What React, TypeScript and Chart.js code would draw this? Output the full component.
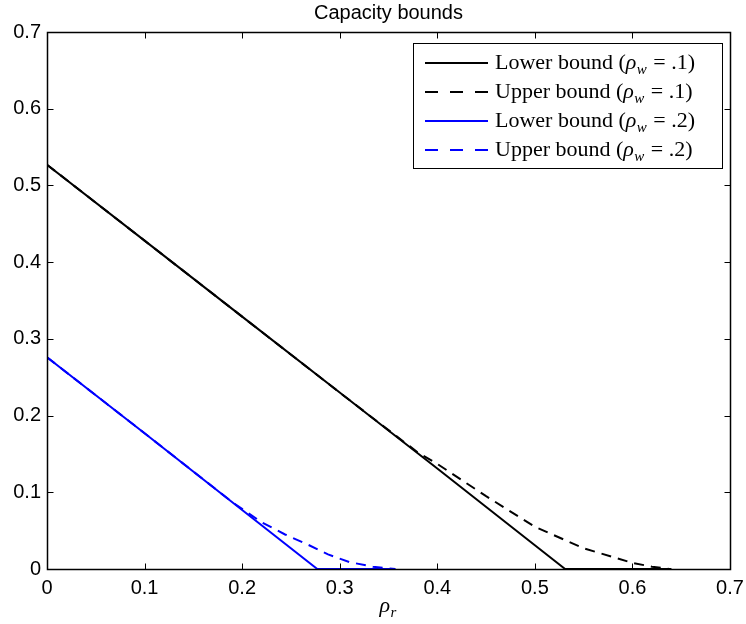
import React, { useEffect, useRef } from 'react';
import { Chart, registerables } from 'chart.js';

Chart.register(...registerables);

// ---- axis ticks ----
const xTicks = [0, 0.1, 0.2, 0.3, 0.4, 0.5, 0.6, 0.7];
const xTickLabels = ['0', '0.1', '0.2', '0.3', '0.4', '0.5', '0.6', '0.7'];
const yTicks = [0, 0.1, 0.2, 0.3, 0.4, 0.5, 0.6, 0.7];
const yTickLabels = ['0', '0.1', '0.2', '0.3', '0.4', '0.5', '0.6', '0.7'];

const chartTitle = 'Capacity bounds';

// ---- series (rho_w = .1) ----
const lower1X = [0, 0.1, 0.2, 0.3, 0.4, 0.5, 0.531, 0.64];
const lower1Y = [0.527, 0.428, 0.329, 0.23, 0.131, 0.031, 0, 0];
const upper1X = [0, 0.1, 0.2, 0.3, 0.35, 0.38, 0.4, 0.45, 0.5, 0.55, 0.6, 0.62, 0.638];
const upper1Y = [0.527, 0.428, 0.329, 0.23, 0.181, 0.152, 0.137, 0.095, 0.055, 0.027, 0.008, 0.003, 0];

// ---- series (rho_w = .2) ----
const lower2X = [0, 0.1, 0.2, 0.277, 0.357];
const lower2Y = [0.276, 0.177, 0.077, 0, 0];
const upper2X = [0, 0.1, 0.19, 0.22, 0.244, 0.267, 0.288, 0.31, 0.334, 0.357];
const upper2Y = [0.276, 0.177, 0.087, 0.061, 0.045, 0.032, 0.019, 0.009, 0.003, 0];

const seriesNames = ['Lower bound', 'Upper bound', 'Lower bound', 'Upper bound'];
const seriesRho = ['.1', '.1', '.2', '.2'];
const seriesColors = ['#000000', '#000000', '#0000ff', '#0000ff'];
const seriesDashed = [false, true, false, true];
const seriesX = [lower1X, upper1X, lower2X, upper2X];
const seriesY = [lower1Y, upper1Y, lower2Y, upper2Y];

const SANS = '"Liberation Sans", Arial, sans-serif';
const SERIF = '"Liberation Serif", "Times New Roman", serif';

function drawRhoSub(ctx: CanvasRenderingContext2D, x: number, y: number, sub: string, size: number) {
  ctx.font = `italic ${size}px ${SERIF}`;
  ctx.fillText('ρ', x, y);
  const w = ctx.measureText('ρ').width;
  ctx.font = `italic ${Math.round(size * 0.7)}px ${SERIF}`;
  ctx.fillText(sub, x + w + 0.5, y + size * 0.22);
  return w + 0.5 + ctx.measureText(sub).width;
}

const decorPlugin = {
  id: 'decor',
  afterDraw(chart: any) {
    const { ctx, chartArea: a, scales } = chart;
    ctx.save();
    const L = Math.round(a.left) + 0.5;
    const R = Math.round(a.right) + 0.5;
    const T = Math.round(a.top) + 0.5;
    const B = Math.round(a.bottom) + 0.5;
    ctx.strokeStyle = '#000';
    ctx.lineWidth = 1.5;
    ctx.strokeRect(L, T, R - L, B - T);
    ctx.lineWidth = 1;
    const tl = 6;
    ctx.beginPath();
    xTicks.forEach((v) => {
      const px = Math.round(scales.x.getPixelForValue(v)) + 0.5;
      ctx.moveTo(px, B);
      ctx.lineTo(px, B - tl);
      ctx.moveTo(px, T);
      ctx.lineTo(px, T + tl);
    });
    yTicks.forEach((v) => {
      const py = Math.round(scales.y.getPixelForValue(v)) + 0.5;
      ctx.moveTo(L, py);
      ctx.lineTo(L + tl, py);
      ctx.moveTo(R, py);
      ctx.lineTo(R - tl, py);
    });
    ctx.stroke();

    // title
    ctx.fillStyle = '#000';
    ctx.font = `20px ${SANS}`;
    ctx.textAlign = 'center';
    ctx.textBaseline = 'alphabetic';
    ctx.fillText(chartTitle, (a.left + a.right) / 2, 19);

    // x axis label rho_r
    ctx.textAlign = 'left';
    const cx = (a.left + a.right) / 2;
    drawRhoSub(ctx, cx - 9, 612, 'r', 22);

    // legend
    const lx = 413.5, ly = 43.5, lw = 309, lh = 125;
    ctx.fillStyle = '#fff';
    ctx.fillRect(lx, ly, lw, lh);
    ctx.strokeStyle = '#000';
    ctx.lineWidth = 1;
    ctx.strokeRect(lx, ly, lw, lh);
    chart.data.datasets.forEach((ds: any, i: number) => {
      const ry = 63 + i * 29;
      ctx.save();
      ctx.strokeStyle = ds.borderColor;
      ctx.lineWidth = 2;
      ctx.setLineDash(seriesDashed[i] ? [13, 12] : []);
      ctx.beginPath();
      ctx.moveTo(425, ry);
      ctx.lineTo(488, ry);
      ctx.stroke();
      ctx.restore();
      ctx.fillStyle = '#000';
      ctx.textAlign = 'left';
      ctx.textBaseline = 'alphabetic';
      const base = ry + 6;
      const size = 22;
      ctx.font = `${size}px ${SERIF}`;
      let x = 495;
      const part1 = seriesNames[i] + ' (';
      ctx.fillText(part1, x, base);
      x += ctx.measureText(part1).width;
      x += drawRhoSub(ctx, x, base, 'w', size);
      ctx.font = `${size}px ${SERIF}`;
      const part2 = ' = ' + seriesRho[i] + ')';
      ctx.fillText(part2, x + 1, base);
    });
    ctx.restore();
  },
};

export default function App() {
  const canvasRef = useRef<HTMLCanvasElement | null>(null);

  useEffect(() => {
    document.body.style.margin = '0';
    const canvas = canvasRef.current;
    if (!canvas) return;
    const datasets = seriesX.map((xs, i) => ({
      label: `${seriesNames[i]} (ρw = ${seriesRho[i]})`,
      data: xs.map((x, j) => ({ x, y: seriesY[i][j] })),
      borderColor: seriesColors[i],
      backgroundColor: seriesColors[i],
      borderWidth: 2,
      borderDash: seriesDashed[i] ? [10, 7] : [],
      pointRadius: 0,
      tension: 0,
      fill: false,
      order: 4 - i,
    }));
    const chart = new Chart(canvas, {
      type: 'line',
      data: { datasets },
      plugins: [decorPlugin],
      options: {
        animation: false,
        responsive: true,
        maintainAspectRatio: false,
        layout: { padding: { top: 32, right: 16, left: 0, bottom: 0 } },
        plugins: {
          legend: { display: false },
          title: { display: false },
          tooltip: { enabled: false },
        },
        scales: {
          x: {
            type: 'linear',
            min: 0,
            max: 0.7,
            afterFit: (s: any) => { s.height = 55; s.paddingLeft = 0; s.paddingRight = 0; },
            afterBuildTicks: (s: any) => { s.ticks = xTicks.map((v) => ({ value: v })); },
            grid: { display: false, drawTicks: false },
            border: { display: false },
            ticks: {
              padding: 7,
              color: '#000',
              font: { family: SANS, size: 20 },
              maxRotation: 0,
              callback: (_v: any, idx: number) => xTickLabels[idx],
            },
          },
          y: {
            type: 'linear',
            min: 0,
            max: 0.7,
            afterFit: (s: any) => { s.width = 47; s.paddingTop = 0; s.paddingBottom = 0; },
            afterBuildTicks: (s: any) => { s.ticks = yTicks.map((v) => ({ value: v })); },
            grid: { display: false, drawTicks: false },
            border: { display: false },
            ticks: {
              padding: 6,
              color: '#000',
              font: { family: SANS, size: 20 },
              callback: (_v: any, idx: number) => yTickLabels[idx],
            },
          },
        },
      } as any,
    });
    return () => chart.destroy();
  }, []);

  return (
    <div style={{ position: 'absolute', left: 0, top: 0, width: 746, height: 624, background: '#fff' }}>
      <canvas ref={canvasRef} />
    </div>
  );
}
